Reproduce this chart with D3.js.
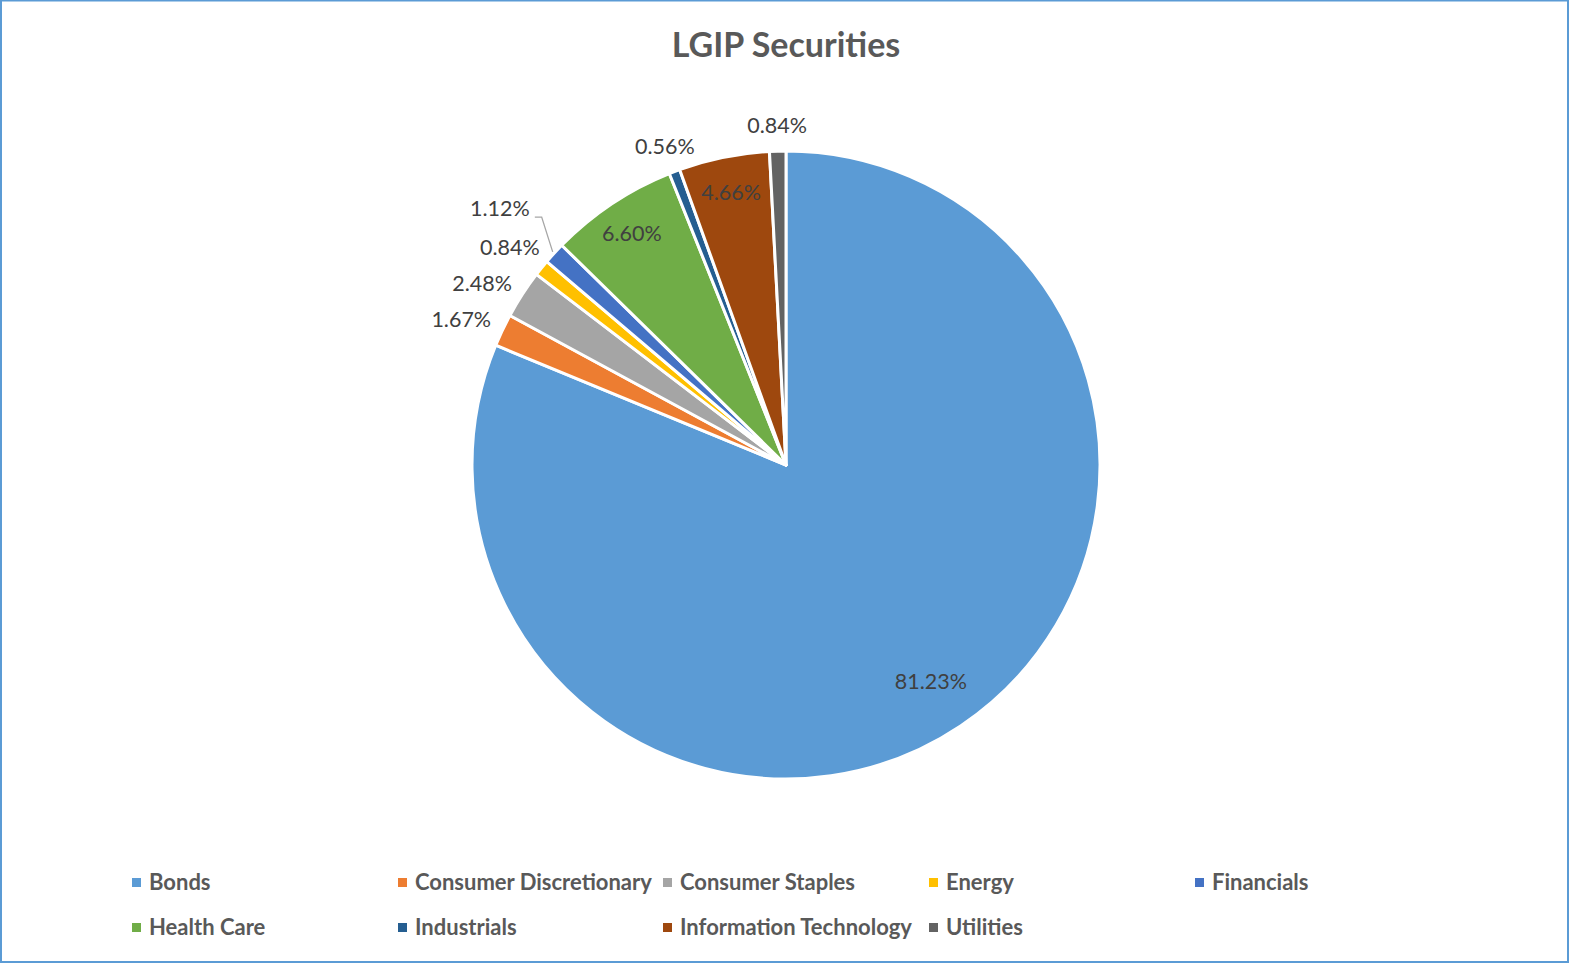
<!DOCTYPE html>
<html>
<head>
<meta charset="utf-8">
<script src="https://cdn.jsdelivr.net/npm/d3@7"></script>
<style>
  body { margin: 0; background: #fff; }
  svg { display: block; font-family: Lato, 'Open Sans', sans-serif; }
</style>
</head>
<body>
<div class="canvas"></div>
<script>
const categories = ['Bonds', 'Consumer Discretionary', 'Consumer Staples', 'Energy', 'Financials',
  'Health Care', 'Industrials', 'Information Technology', 'Utilities']
const shares = [81.23, 1.67, 2.48, 0.84, 1.12, 6.60, 0.56, 4.66, 0.84]
const colours = ['#5B9BD5', '#ED7D31', '#A5A5A5', '#FFC000', '#4472C4',
  '#70AD47', '#255E91', '#9E480E', '#636363']

const width = 1569
const height = 963
const cx = 786
const cy = 465
const radius = 314

const svg = d3.select('.canvas').append('svg')
  .attr('width', width)
  .attr('height', height)

svg.append('rect')
  .attr('x', 1).attr('y', 0.5)
  .attr('width', width - 2).attr('height', height - 1.5)
  .attr('fill', '#fff')
  .attr('stroke', '#5B9BD5')
  .attr('stroke-width', 2)

svg.append('text')
  .attr('x', cx)
  .attr('y', 57)
  .attr('text-anchor', 'middle')
  .attr('fill', '#595959')
  .attr('font-weight', 'bold')
  .attr('font-size', 34)
  .text('LGIP Securities')

const data = categories.map((c, i) => ({ name: c, value: shares[i], colour: colours[i] }))

const pie = d3.pie().value(d => d.value).sort(null)
const arcs = pie(data)
const arc = d3.arc().innerRadius(0).outerRadius(radius)

const graph = svg.append('g')
  .attr('transform', `translate(${cx}, ${cy})`)

graph.selectAll('path')
  .data(arcs)
  .enter().append('path')
  .attr('d', arc)
  .attr('fill', d => d.data.colour)
  .attr('stroke', '#fff')
  .attr('stroke-width', 3)
  .attr('stroke-linejoin', 'round')

// labels: big slices inside, small ones outside the rim
const fmt = d => d.toFixed(2) + '%'
const labelGroup = graph.append('g')
  .attr('font-size', 21.5)
  .attr('fill', '#404040')

const boxW = 62
const boxH = 24
const gap = 14
const rimX = y => -Math.sqrt((radius + gap) ** 2 - y * y) - boxW / 2

const labels = arcs.map(a => {
  const mid = (a.startAngle + a.endAngle) / 2
  const ux = Math.sin(mid)
  const uy = -Math.cos(mid)
  if (a.data.value >= 4) {
    const r = a.data.value > 50 ? radius * 0.83 : radius * 0.885
    return { a, ux, uy, inside: true, x: r * ux, y: r * uy }
  }
  const half = Math.min(boxW / 2 / Math.abs(ux || 1e-6), boxH / 2 / Math.abs(uy || 1e-6))
  const d = radius + gap + half
  const y = d * uy
  const x = ux < -0.6 ? rimX(y) : d * ux
  return { a, ux, uy, inside: false, left: ux < -0.6, x, y }
})

// a label that collides with the one before it goes up, with a leader line
const outside = labels.filter(l => !l.inside)
outside.forEach((l, i) => {
  const p = outside[i - 1]
  if (p && Math.abs(p.y - l.y) < 22 && Math.abs(p.x - l.x) < boxW) {
    l.y = p.y - 39
    l.x = p.x - 10
    l.leader = true
  }
})
// left-side labels are spread downwards so they do not crowd
const leftSide = outside.filter(l => l.left && !l.leader)
for (let i = leftSide.length - 2; i >= 0; i--) {
  const above = leftSide[i + 1]
  const l = leftSide[i]
  if (l.y < above.y + 36) {
    l.y = above.y + 36
    l.x = rimX(l.y)
  }
}

labels.forEach(l => {
  if (l.leader) {
    const ex = (radius + 2) * l.ux
    const ey = (radius + 2) * l.uy
    labelGroup.append('polyline')
      .attr('points', `${ex},${ey} ${ex - 11},${l.y + 9} ${l.x + boxW / 2 + 4},${l.y + 9}`)
      .attr('fill', 'none')
      .attr('stroke', '#A6A6A6')
      .attr('stroke-width', 1.3)
  }
  labelGroup.append('text')
    .attr('x', l.x)
    .attr('y', l.y)
    .attr('dy', '0.35em')
    .attr('text-anchor', 'middle')
    .text(fmt(l.a.data.value))
})

// legend
const legendCols = [136, 402, 667, 933, 1199]
const legendRows = [882, 927]
const legend = svg.append('g')
  .attr('font-size', 22)
  .attr('font-weight', 'bold')
  .attr('fill', '#595959')

const items = legend.selectAll('g')
  .data(data)
  .enter().append('g')
  .attr('transform', (d, i) => `translate(${legendCols[i % 5]}, ${legendRows[Math.floor(i / 5)]})`)

items.append('rect')
  .attr('x', -4).attr('y', -4)
  .attr('width', 9).attr('height', 9)
  .attr('fill', d => d.colour)

items.append('text')
  .attr('x', 13)
  .attr('dy', '0.35em')
  .text(d => d.name)
</script>
</body>
</html>
